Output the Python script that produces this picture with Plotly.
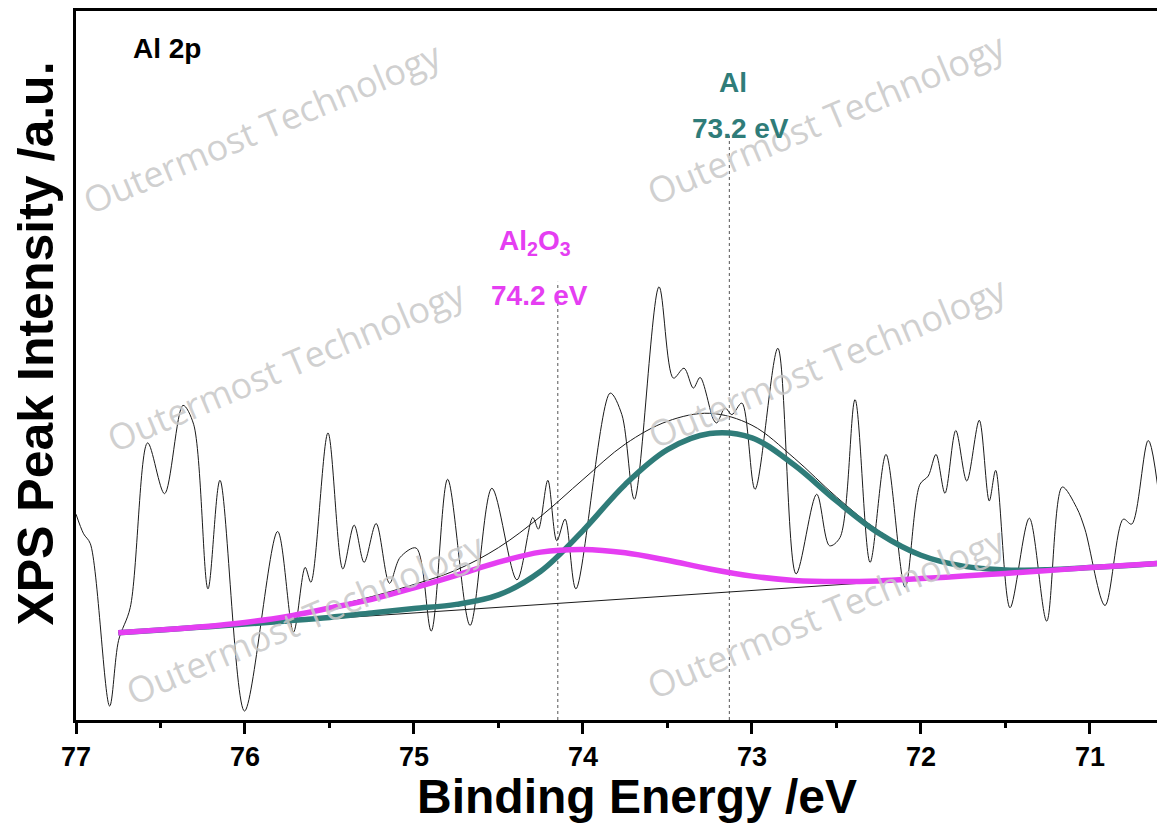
import plotly.graph_objects as go

# ---------------- data ----------------
# raw Al 2p spectrum: binding energy (eV) and intensity (a.u.)
spec_be = [77.000, 76.955, 76.915, 76.801, 76.748, 76.679, 76.576, 76.476, 76.367, 76.304,
           76.219, 76.148, 76.003, 75.807, 75.713, 75.644, 75.610, 75.509, 75.421, 75.354,
           75.295, 75.224, 75.145, 75.082, 74.987, 74.898, 74.801, 74.668, 74.539, 74.391,
           74.297, 74.264, 74.208, 74.155, 74.106, 74.042, 73.839, 73.770, 73.696, 73.550,
           73.465, 73.402, 73.347, 73.307, 73.228, 73.208, 73.159, 73.119, 73.060, 72.982,
           72.847, 72.739, 72.617, 72.541, 72.479, 72.390, 72.301, 72.207, 72.094, 72.006,
           71.957, 71.911, 71.858, 71.794, 71.729, 71.655, 71.596, 71.558, 71.473, 71.359,
           71.256, 71.164, 71.079, 71.030, 70.911, 70.803, 70.753, 70.655, 70.556]
spec_int = [206.7, 187.0, 177.0, 14.0, 80.0, 113.0, 278.3, 227.3, 316.0, 297.0,
            131.7, 240.7, 9.0, 189.3, 88.3, 153.3, 138.3, 288.3, 151.7, 195.7,
            158.3, 197.3, 137.3, 163.3, 172.7, 89.3, 241.7, 95.0, 232.7, 140.7,
            203.3, 191.7, 240.7, 180.0, 201.7, 131.7, 328.3, 306.7, 221.7, 435.0,
            343.3, 353.3, 333.3, 344.0, 301.7, 298.3, 313.3, 306.7, 318.3, 231.7,
            373.3, 146.7, 226.7, 175.0, 183.3, 321.7, 158.3, 266.7, 133.3, 236.7,
            245.0, 266.7, 227.7, 290.7, 240.0, 301.0, 220.0, 250.7, 112.7, 202.7,
            99.3, 234.0, 213.3, 191.7, 115.0, 201.7, 196.7, 280.7, 170.0]

# fitted components
fit_be = [76.75, 76.5, 76.25, 76.0, 75.75, 75.5, 75.25, 75.0, 74.75, 74.5, 74.25, 74.0, 73.75,
          73.5, 73.25, 73.0, 72.75, 72.5, 72.25, 72.0, 71.75, 71.5, 71.25, 71.0, 70.75, 70.556]
al2o3_int = [87.7, 90.5, 93.7, 98.0, 104.0, 112.4, 121.2, 132.7, 145.3, 158.5, 168.6, 171.3, 168.0,
             160.4, 151.7, 144.5, 140.2, 139.0, 139.7, 142.0, 144.5, 147.2, 150.0, 153.1, 155.6, 157.7]
al_int = [87.7, 90.4, 93.3, 96.3, 99.5, 103.0, 107.5, 111.9, 116.1, 125.6, 149.4, 190.2, 236.6,
          271.5, 287.7, 283.4, 256.0, 220.0, 187.6, 165.4, 154.5, 150.7, 151.0, 153.1, 155.5, 157.7]
envelope_int = [87.7, 90.4, 93.7, 98.1, 104.6, 113.6, 123.9, 136.1, 150.6, 173.1, 204.5, 241.5, 277.1,
                300.0, 308.0, 296.0, 263.0, 224.0, 190.0, 166.6, 155.0, 151.1, 151.2, 153.2, 155.8, 157.7]
bg_be = [76.75, 70.556]
bg_int = [87.7, 157.7]

# peak markers
peak_names = ["Al<sub>2</sub>O<sub>3</sub>", "Al"]
peak_labels = ["74.2 eV", "73.2 eV"]
peak_line_be = [74.149, 73.134]
peak_line_top = [440, 587]

x_ticks = [77, 76, 75, 74, 73, 72, 71]
x_range = [77, 70.556]
y_range = [0, 712]

TEAL = "#2F7C79"
MAGENTA = "#E53EF2"
FONT = "Liberation Sans"

# page geometry (the page body adds an 8 px offset)
PL, PR, PB, PT = 76, 1165, 720, 8


def px(xp):
    return (xp - PL) / (PR - PL)


def py(yp):
    return (PB - yp) / (PB - PT)


fig = go.Figure()
fig.add_trace(go.Scatter(x=spec_be, y=spec_int, mode="lines",
                         line=dict(color="#1a1a1a", width=1, shape="spline", smoothing=0.9)))
fig.add_trace(go.Scatter(x=bg_be, y=bg_int, mode="lines", line=dict(color="#1a1a1a", width=1)))
fig.add_trace(go.Scatter(x=fit_be, y=envelope_int, mode="lines",
                         line=dict(color="#1a1a1a", width=1, shape="spline")))
fig.add_trace(go.Scatter(x=fit_be, y=al_int, mode="lines",
                         line=dict(color=TEAL, width=5.5, shape="spline")))
fig.add_trace(go.Scatter(x=fit_be, y=al2o3_int, mode="lines",
                         line=dict(color=MAGENTA, width=5.5, shape="spline")))

shapes = []
for xb, yt in zip(peak_line_be, peak_line_top):
    shapes.append(dict(type="line", xref="x", yref="y", x0=xb, x1=xb, y0=0, y1=yt,
                       line=dict(color="#555555", width=1, dash="dot"), layer="below"))

ann = []


def add_text(text, xp, yp, size, color, angle=0, family=FONT, bold=True):
    f = dict(family=family, size=size, color=color)
    if bold:
        f["weight"] = "bold"
    ann.append(dict(text=text, xref="paper", yref="paper", x=px(xp), y=py(yp),
                    xanchor="center", yanchor="middle", showarrow=False,
                    textangle=angle, font=f))


# watermarks
wm = [(262, 125), (826, 116), (286, 364), (828, 360), (305, 618), (826, 612)]
for (xw, yw) in wm:
    add_text("Outermost Technology", xw, yw, 36, "rgba(200,200,200,0.85)", angle=-23,
             family="Open Sans", bold=False)

ann.append(dict(text="Al 2p", xref="paper", yref="paper", x=px(131), y=py(46),
                xanchor="left", yanchor="middle", showarrow=False,
                font=dict(family=FONT, size=28, color="black", weight="bold")))
add_text(peak_names[1], 733, 80, 28, TEAL)
add_text(peak_labels[1], 740, 126, 28, TEAL)
add_text(peak_names[0], 535, 240, 28, MAGENTA)
add_text(peak_labels[0], 539, 294, 28, MAGENTA)
add_text("Binding Energy /eV", 637, 797, 48, "black")
add_text("XPS Peak Intensity /a.u.", 36, 342, 50, "black", angle=-90)

fig.update_layout(
    width=1157, height=816,
    margin=dict(l=68, r=0, t=0, b=104),
    paper_bgcolor="white", plot_bgcolor="white",
    showlegend=False,
    shapes=shapes, annotations=ann,
    xaxis=dict(range=x_range, tickvals=x_ticks, ticktext=[str(t) for t in x_ticks],
               showgrid=False, zeroline=False, showline=True, linecolor="black", linewidth=2.5,
               mirror=True, ticks="outside", ticklen=11, tickwidth=2.5, tickcolor="black",
               tickfont=dict(family=FONT, size=27, color="black", weight="bold"),
               minor=dict(dtick=0.5, tick0=77, ticks="outside", ticklen=5, tickwidth=2.5, tickcolor="black")),
    yaxis=dict(range=y_range, showgrid=False, zeroline=False, showline=True, linecolor="black",
               linewidth=2.5, showticklabels=False, ticks=""),
)

fig.write_html("out.html")
